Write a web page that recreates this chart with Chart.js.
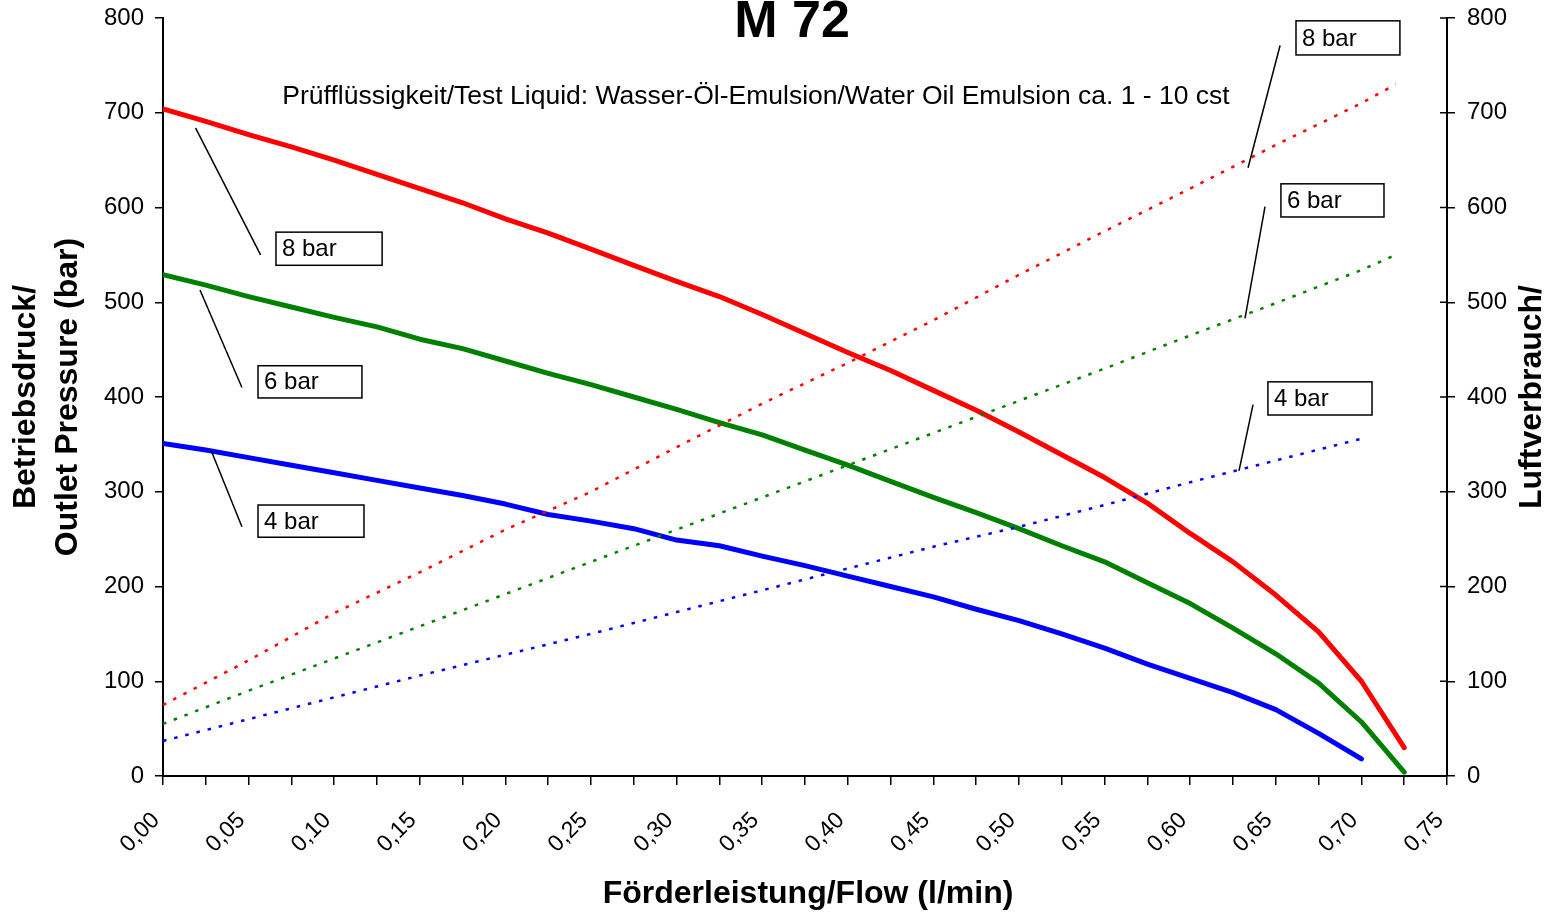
<!DOCTYPE html>
<html lang="de">
<head>
  <meta charset="UTF-8">
  <title>M 72</title>
  <script src="https://cdn.jsdelivr.net/npm/chart.js"></script>
  <style>
    html, body {
      margin: 0;
      padding: 0;
      background-color: #fff;
    }
    #grafico {
      display: block;
    }
  </style>
</head>
<body>

<canvas id="grafico" width="1548" height="914"></canvas>

<script>
  // Förderleistung (l/min) – Stützstellen der Kennlinien
  var flow = [0, 0.025, 0.05, 0.075, 0.1, 0.125, 0.15, 0.175, 0.2, 0.225, 0.25, 0.275, 0.3, 0.325, 0.35,
              0.375, 0.4, 0.425, 0.45, 0.475, 0.5, 0.525, 0.55, 0.575, 0.6, 0.625, 0.65, 0.675, 0.7, 0.725];
  var flow4 = [0, 0.025, 0.05, 0.075, 0.1, 0.125, 0.15, 0.175, 0.2, 0.225, 0.25, 0.275, 0.3, 0.325, 0.35,
               0.375, 0.4, 0.425, 0.45, 0.475, 0.5, 0.525, 0.55, 0.575, 0.6, 0.625, 0.65, 0.675, 0.7];

  // Betriebsdruck (bar)
  var pressure8 = [704, 691, 677, 664, 650, 635, 620, 605, 588, 573, 556, 539, 522, 506, 487,
                   467, 447, 428, 407, 386, 363, 339, 315, 288, 256, 226, 191, 152, 100, 30];
  var pressure6 = [529, 518, 506, 495, 484, 474, 461, 451, 438, 425, 413, 400, 387, 373, 360,
                   344, 328, 311, 294, 278, 261, 243, 226, 204, 182, 156, 129, 98, 57, 4];
  var pressure4 = [351, 344, 336, 328, 320, 312, 304, 296, 287, 276, 269, 261, 249, 243, 232,
                   222, 211, 200, 189, 176, 164, 150, 135, 118, 103, 88, 70, 45, 18];

  // Luftverbrauch
  var airFlow = [0, 0.05, 0.1, 0.15, 0.2, 0.25, 0.3, 0.35, 0.4, 0.45, 0.5, 0.55, 0.6, 0.65, 0.7, 0.72];
  var airFlow4 = [0, 0.05, 0.1, 0.15, 0.2, 0.25, 0.3, 0.35, 0.4, 0.45, 0.5, 0.55, 0.6, 0.65, 0.7];
  var air8 = [75, 122, 172, 215, 260, 300, 347, 393, 436, 481, 529, 575, 620, 666, 710, 730];
  var air6 = [55, 90, 124, 158, 192, 226, 260, 294, 328, 362, 396, 430, 465, 499, 534, 550];
  var air4 = [37, 60, 83, 106, 128, 150, 173, 196, 219, 242, 263, 286, 310, 333, 356];

  var yTicks = [0, 100, 200, 300, 400, 500, 600, 700, 800];

  // Beschriftungskästen (Datenkoordinaten): Kasten [x0, x1, yOben, yUnten], Linie [x, y, x, y]
  var callouts = [
    { text: '8 bar', box: [0.066, 0.128, 574, 539], line: [0.019, 684, 0.057, 550] },
    { text: '6 bar', box: [0.0555, 0.1162, 433, 399], line: [0.0216, 513, 0.0461, 410] },
    { text: '4 bar', box: [0.0555, 0.1174, 286, 252], line: [0.028, 344, 0.0461, 263] },
    { text: '8 bar', box: [0.6618, 0.7225, 797, 761], line: [0.6525, 771, 0.6338, 642] },
    { text: '6 bar', box: [0.653, 0.7132, 625, 590], line: [0.6437, 601, 0.632, 483] },
    { text: '4 bar', box: [0.6454, 0.7062, 416, 381], line: [0.6367, 392, 0.6285, 322] }
  ];

  var FONT = "'Liberation Sans', Arial, sans-serif";

  function zip(xs, ys) {
    return ys.map(function (v, i) { return { x: xs[i], y: v }; });
  }

  function solid(label, xs, ys, color) {
    return {
      label: label, data: zip(xs, ys), yAxisID: 'y',
      borderColor: color, borderWidth: 5, pointRadius: 0,
      borderCapStyle: 'round', borderJoinStyle: 'round', tension: 0
    };
  }

  function dotted(label, xs, ys, color) {
    return {
      label: label, data: zip(xs, ys), yAxisID: 'y2',
      borderColor: color, borderWidth: 2.5, pointRadius: 0,
      borderDash: [3.5, 8], tension: 0
    };
  }

  // keine automatische Randreserve der y-Achsen, damit die Zeichenfläche wie im Original sitzt
  function fixWidth(w) {
    return function (s) {
      s.width = w;
      s.paddingTop = 0;
      s.paddingBottom = 0;
    };
  }

  var extras = {
    id: 'extras',
    afterDatasetsDraw: function (chart) {
      var ctx = chart.ctx;
      var sx = chart.scales.x, sy = chart.scales.y, sy2 = chart.scales.y2;
      ctx.save();

      // Innenstriche der rechten Achse
      ctx.strokeStyle = '#000';
      ctx.lineWidth = 1.5;
      yTicks.forEach(function (v) {
        var py = sy2.getPixelForValue(v);
        ctx.beginPath();
        ctx.moveTo(sx.right - 7, py);
        ctx.lineTo(sx.right, py);
        ctx.stroke();
      });

      // Beschriftungen mit Hinweislinien
      callouts.forEach(function (c) {
        ctx.lineWidth = 1.5;
        ctx.strokeStyle = '#000';
        ctx.beginPath();
        ctx.moveTo(sx.getPixelForValue(c.line[0]), sy.getPixelForValue(c.line[1]));
        ctx.lineTo(sx.getPixelForValue(c.line[2]), sy.getPixelForValue(c.line[3]));
        ctx.stroke();

        var x0 = sx.getPixelForValue(c.box[0]), x1 = sx.getPixelForValue(c.box[1]);
        var y0 = sy.getPixelForValue(c.box[2]), y1 = sy.getPixelForValue(c.box[3]);
        ctx.fillStyle = '#fff';
        ctx.fillRect(x0, y0, x1 - x0, y1 - y0);
        ctx.strokeRect(x0, y0, x1 - x0, y1 - y0);
        ctx.fillStyle = '#000';
        ctx.font = '24px ' + FONT;
        ctx.textAlign = 'left';
        ctx.textBaseline = 'middle';
        ctx.fillText(c.text, x0 + 6, (y0 + y1) / 2 + 1);
      });
      ctx.restore();
    },
    afterDraw: function (chart) {
      var ctx = chart.ctx;
      var area = chart.chartArea;
      var midY = (area.top + area.bottom) / 2;
      ctx.save();
      ctx.fillStyle = '#000';
      ctx.textAlign = 'center';
      ctx.textBaseline = 'alphabetic';

      ctx.font = 'bold 52px ' + FONT;
      ctx.fillText('M 72', 792, 37);

      ctx.font = '26.5px ' + FONT;
      ctx.fillText('Prüfflüssigkeit/Test Liquid: Wasser-Öl-Emulsion/Water Oil Emulsion ca. 1 - 10 cst', 756, 104);

      ctx.font = 'bold 32px ' + FONT;
      ctx.fillText('Förderleistung/Flow (l/min)', 808, 903);

      ctx.textBaseline = 'middle';
      ctx.save();
      ctx.translate(26, midY);
      ctx.rotate(-Math.PI / 2);
      ctx.fillText('Betriebsdruck/', 0, 0);
      ctx.restore();

      ctx.save();
      ctx.translate(68, midY);
      ctx.rotate(-Math.PI / 2);
      ctx.fillText('Outlet Pressure (bar)', 0, 0);
      ctx.restore();

      ctx.save();
      ctx.translate(1532, midY);
      ctx.rotate(-Math.PI / 2);
      ctx.fillText('Luftverbrauch/', 0, 0);
      ctx.restore();

      ctx.restore();
    }
  };

  var tickFont = { family: FONT, size: 24 };

  var grafico = new Chart(document.getElementById('grafico').getContext('2d'), {
    type: 'line',
    data: {
      datasets: [
        dotted('Luft 8 bar', airFlow, air8, '#ff0000'),
        dotted('Luft 6 bar', airFlow, air6, '#008000'),
        dotted('Luft 4 bar', airFlow4, air4, '#0000ff'),
        solid('8 bar', flow, pressure8, '#ff0000'),
        solid('6 bar', flow, pressure6, '#008000'),
        solid('4 bar', flow4, pressure4, '#0000ff')
      ]
    },
    options: {
      responsive: false,
      animation: false,
      layout: { padding: { top: 18, left: 0, right: 0, bottom: 0 } },
      plugins: {
        legend: { display: false },
        tooltip: { enabled: false }
      },
      scales: {
        x: {
          type: 'linear',
          min: 0,
          max: 0.75,
          afterFit: function (s) { s.height = 138; },
          ticks: {
            stepSize: 0.025,
            autoSkip: false,
            maxRotation: 45,
            minRotation: 45,
            padding: 22,
            labelOffset: -7,
            color: '#000',
            font: { family: FONT, size: 23 },
            callback: function (v) {
              var m = Math.round(v * 1000);
              return m % 50 === 0 ? (m / 1000).toFixed(2).replace('.', ',') : '';
            }
          },
          grid: { drawOnChartArea: false, color: '#000', tickLength: 9, lineWidth: 1.5 },
          border: { color: '#000', width: 2 }
        },
        y: {
          position: 'left',
          min: 0,
          max: 800,
          afterFit: fixWidth(163),
          ticks: { stepSize: 100, padding: 11, color: '#000', font: tickFont },
          grid: { drawOnChartArea: false, color: '#000', tickLength: 8, lineWidth: 1.5 },
          border: { color: '#000', width: 2 }
        },
        y2: {
          position: 'right',
          min: 0,
          max: 800,
          afterFit: fixWidth(101),
          ticks: { stepSize: 100, padding: 12, color: '#000', font: tickFont },
          grid: { drawOnChartArea: false, color: '#000', tickLength: 8, lineWidth: 1.5 },
          border: { color: '#000', width: 2 }
        }
      }
    },
    plugins: [extras]
  });
</script>

</body>
</html>
